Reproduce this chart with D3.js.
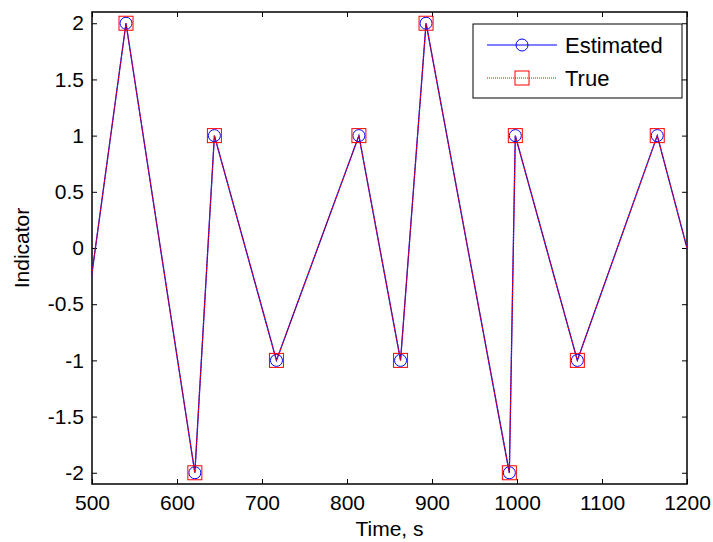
<!DOCTYPE html>
<html>
<head>
<meta charset="utf-8">
<script src="https://cdn.jsdelivr.net/npm/d3@7"></script>
<style>
  body { margin: 0; background: #fff; }
  svg { font-family: "Liberation Sans", Arial, sans-serif; }
</style>
</head>
<body>
<svg id="chart" width="713" height="542"></svg>
<script>
// switching times (s) and indicator values
const times = [486, 540, 621, 644, 717, 814, 863, 893, 991, 998, 1071, 1165, 1235];
const estimated = [-1, 2, -2, 1, -1, 1, -1, 2, -2, 1, -1, 1, -1];
const trueVals = [-1, 2, -2, 1, -1, 1, -1, 2, -2, 1, -1, 1, -1];
const xTicks = [500, 600, 700, 800, 900, 1000, 1100, 1200];
const yTicks = [-2, -1.5, -1, -0.5, 0, 0.5, 1, 1.5, 2];

const svg = d3.select('#chart');
const margin = { top: 12, right: 26, bottom: 58, left: 92 };
const width = 713 - margin.left - margin.right;
const height = 542 - margin.top - margin.bottom;
const fontSize = 21;

const g = svg.append('g').attr('transform', `translate(${margin.left},${margin.top})`);

const x = d3.scaleLinear().domain([500, 1200]).range([0, width]);
const y = d3.scaleLinear().domain([-2.1, 2.1]).range([height, 0]);

g.append('clipPath').attr('id', 'clip')
  .append('rect').attr('width', width).attr('height', height);

// axes with inward ticks on all four sides (box on)
const tickLen = 5;
const plain = d => String(d);
const xAxisB = g.append('g').attr('transform', `translate(0,${height})`)
  .call(d3.axisBottom(x).tickValues(xTicks).tickSizeInner(-tickLen).tickSizeOuter(0).tickPadding(11).tickFormat(plain));
const xAxisT = g.append('g')
  .call(d3.axisTop(x).tickValues(xTicks).tickSizeInner(-tickLen).tickSizeOuter(0).tickFormat(''));
const yAxisL = g.append('g')
  .call(d3.axisLeft(y).tickValues(yTicks).tickSizeInner(-tickLen).tickSizeOuter(0).tickPadding(8).tickFormat(plain));
const yAxisR = g.append('g').attr('transform', `translate(${width},0)`)
  .call(d3.axisRight(y).tickValues(yTicks).tickSizeInner(-tickLen).tickSizeOuter(0).tickFormat(''));

[xAxisB, xAxisT, yAxisL, yAxisR].forEach(a => {
  a.select('.domain').remove();
  a.selectAll('line').attr('stroke', '#000').attr('stroke-width', 1);
  a.selectAll('text').attr('font-size', fontSize).attr('fill', '#000')
    .attr('font-family', '"Liberation Sans", Arial, sans-serif');
});

g.append('rect').attr('width', width).attr('height', height)
  .attr('fill', 'none').attr('stroke', '#000').attr('stroke-width', 1.5);

const est = times.map((t, i) => ({ t: t, v: estimated[i] }));
const tru = times.map((t, i) => ({ t: t, v: trueVals[i] }));

const line = d3.line().x(d => x(d.t)).y(d => y(d.v));
const plot = g.append('g').attr('clip-path', 'url(#clip)');

// Estimated: blue solid with circles
plot.append('path').datum(est).attr('d', line)
  .attr('fill', 'none').attr('stroke', '#0000ff').attr('stroke-width', 1.3);
plot.selectAll('.circ').data(est).enter().append('circle')
  .attr('cx', d => x(d.t)).attr('cy', d => y(d.v)).attr('r', 6)
  .attr('fill', 'none').attr('stroke', '#0000ff').attr('stroke-width', 1);

// True: red dotted with squares
plot.append('path').datum(tru).attr('d', line)
  .attr('fill', 'none').attr('stroke', '#ff0000').attr('stroke-width', 1)
  .attr('stroke-dasharray', '2,1');
plot.selectAll('.sq').data(tru).enter().append('rect')
  .attr('x', d => x(d.t) - 7).attr('y', d => y(d.v) - 7)
  .attr('width', 14).attr('height', 14)
  .attr('fill', 'none').attr('stroke', '#ff0000').attr('stroke-width', 1);

// axis labels
svg.append('text').attr('x', margin.left + width / 2).attr('y', 536)
  .attr('text-anchor', 'middle').attr('font-size', fontSize).text('Time, s');
svg.append('text').attr('transform', `translate(29,${margin.top + height / 2}) rotate(-90)`)
  .attr('text-anchor', 'middle').attr('font-size', fontSize).text('Indicator');

// legend
const legend = svg.append('g');
legend.append('rect').attr('x', 473).attr('y', 24).attr('width', 209).attr('height', 74)
  .attr('fill', '#fff').attr('stroke', '#000').attr('stroke-width', 1);
const items = [
  { name: 'Estimated', color: '#0000ff', dash: null, marker: 'circle' },
  { name: 'True', color: '#ff0000', dash: '1,1', marker: 'square' }
];
items.forEach((it, i) => {
  const cy = 45 + i * 33;
  legend.append('line').attr('x1', 487).attr('x2', 557).attr('y1', cy).attr('y2', cy)
    .attr('stroke', it.color).attr('stroke-width', 1)
    .attr('stroke-dasharray', it.dash);
  if (it.marker === 'circle') {
    legend.append('circle').attr('cx', 522).attr('cy', cy).attr('r', 6)
      .attr('fill', 'none').attr('stroke', it.color);
  } else {
    legend.append('rect').attr('x', 515).attr('y', cy - 7).attr('width', 14).attr('height', 14)
      .attr('fill', 'none').attr('stroke', it.color);
  }
  legend.append('text').attr('x', 565).attr('y', cy + 8).attr('font-size', 22).text(it.name);
});
</script>
</body>
</html>
